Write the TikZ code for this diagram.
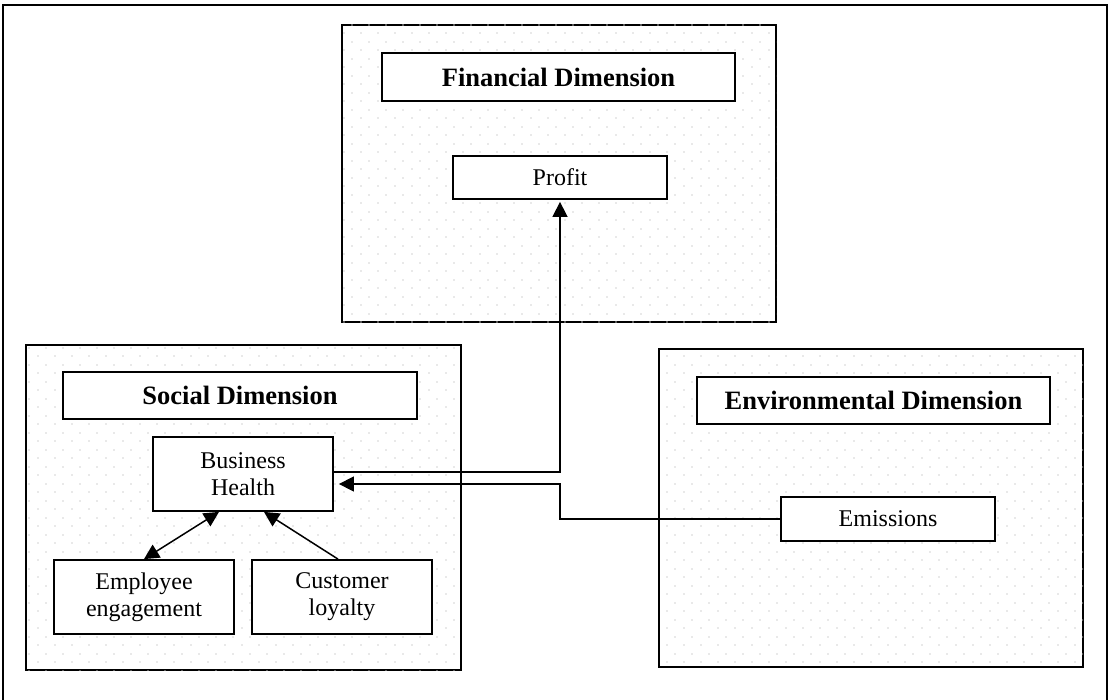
\documentclass[tikz,border=0pt]{standalone}
\usepackage{fontspec}
\setmainfont{Liberation Serif}
\usetikzlibrary{arrows.meta,patterns.meta}

% staggered grid of small grey dots used as the group background
\tikzdeclarepattern{
  name=stagdots,
  type=uncolored,
  bounding box={(0pt,0pt) and (17pt,17pt)},
  tile size={(17pt,17pt)},
  code={
    \pgfpathrectangle{\pgfpoint{3.5pt}{3.5pt}}{\pgfpoint{1.4pt}{1.4pt}}
    \pgfpathrectangle{\pgfpoint{12pt}{12pt}}{\pgfpoint{1.4pt}{1.4pt}}
    \pgfusepath{fill}
  }
}

\definecolor{dotgrey}{RGB}{205,205,205}

\tikzset{
  group/.style={draw=black, line width=1.9pt, fill=white, inner sep=0pt,
    postaction={pattern=stagdots, pattern color=dotgrey}},
  titlebox/.style={draw=black, line width=1.9pt, fill=white, inner sep=0pt,
    font=\fontsize{26.5}{30}\selectfont\bfseries},
  itembox/.style={draw=black, line width=1.8pt, fill=white, inner sep=0pt,
    align=center, font=\fontsize{24}{27}\selectfont},
  tip/.tip={Triangle[length=15pt,width=15pt]},
  arr/.style={line width=1.5pt, -tip},
  dblarr/.style={line width=1.5pt, tip-tip},
}

\begin{document}
\begin{tikzpicture}[x=1pt,y=-1pt]
\useasboundingbox (0,0) rectangle (1110,700);

% outer frame (its lower edge runs past the page)
\draw[line width=2.6pt] (3,720) -- (3,5) -- (1107,5) -- (1107,720);

% dimension groups
\node[group, minimum width=434pt, minimum height=297pt] (fin) at (559,173.5) {};
\node[group, minimum width=435pt, minimum height=325pt] (soc) at (243.5,507.5) {};
\node[group, minimum width=424pt, minimum height=318pt] (env) at (871,508) {};

% group titles
\node[titlebox, minimum width=353pt, minimum height=48pt] (fintitle) at (558.5,77) {Financial Dimension};
\node[titlebox, minimum width=354pt, minimum height=47pt] (soctitle) at (240,395.5) {Social Dimension};
\node[titlebox, minimum width=353pt, minimum height=47pt] (envtitle) at (873.5,400.5) {Environmental Dimension};

% items
\node[itembox, minimum width=214pt, minimum height=43pt] (profit) at (560,177.5) {Profit};
\node[itembox, minimum width=180pt, minimum height=74pt] (health) at (243,474) {Business\\Health};
\node[itembox, minimum width=180pt, minimum height=74pt] (employee) at (144,597) {Employee\\engagement};
\node[itembox, minimum width=180pt, minimum height=74pt] (customer) at (342,597) {Customer\\loyalty};
\node[itembox, minimum width=214pt, minimum height=44pt] (emissions) at (888,519) {Emissions};

% connectors
\coordinate (bend) at (profit.south |- 0,484);
\draw[arr, shorten >=2pt] ([yshift=2pt]health.east) -| (profit.south);
\draw[arr, shorten >=5pt] (emissions.west) -| (bend) -- ([yshift=-10pt]health.east);
\draw[dblarr] (employee.north) -- ([xshift=-24pt]health.south);
\draw[arr] ([xshift=-4pt]customer.north) -- ([xshift=21pt]health.south);
\end{tikzpicture}
\end{document}
